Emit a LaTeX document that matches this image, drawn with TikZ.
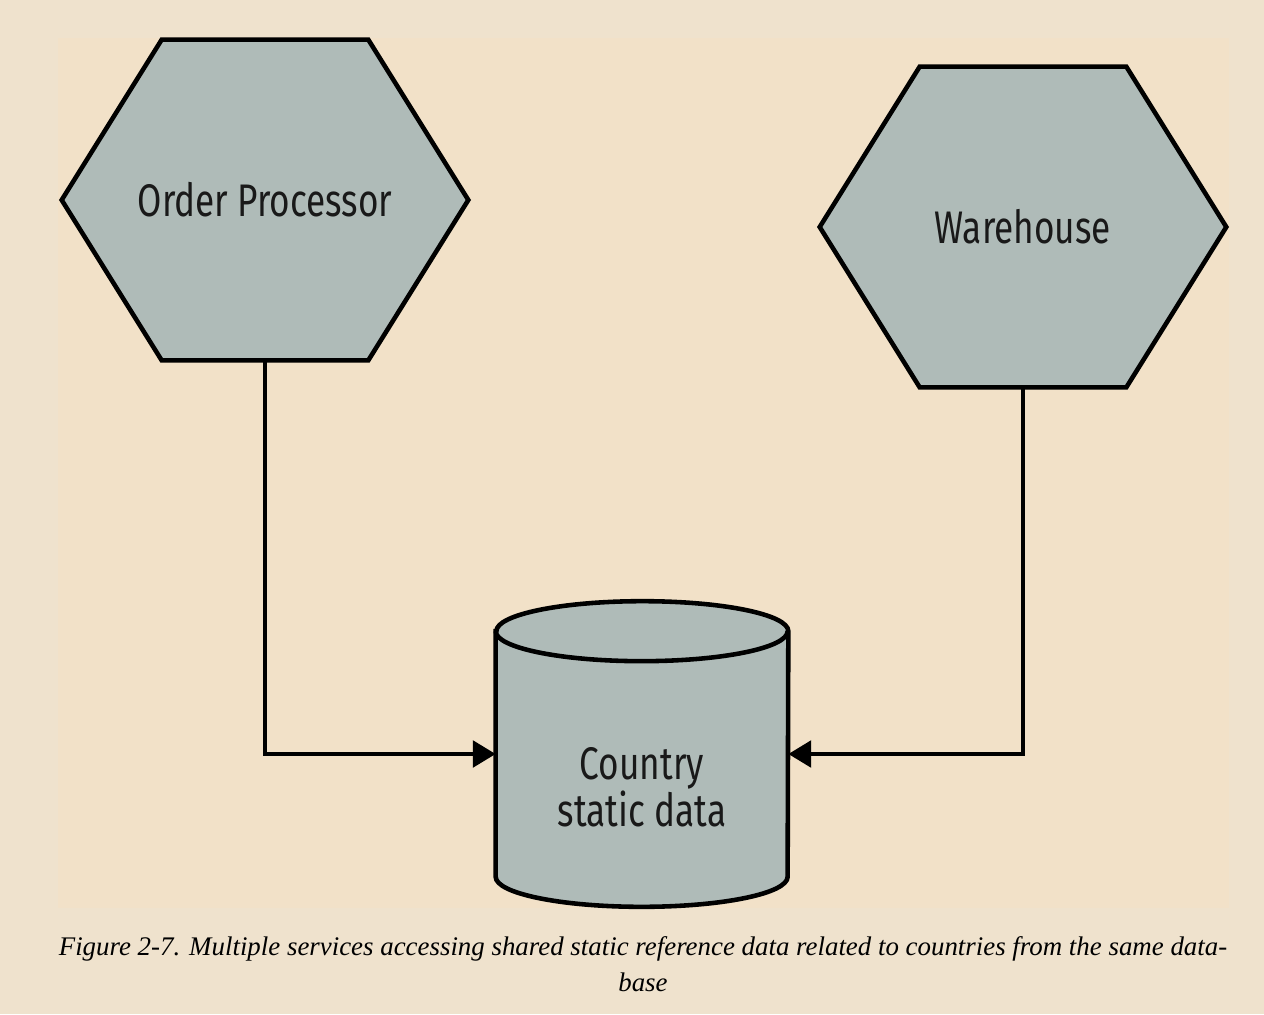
\documentclass[tikz,border=0pt]{standalone}
\usepackage{fontspec}
\setmainfont{Liberation Serif}
\newfontfamily\boxfont[FakeStretch=0.77]{Fira Sans}
\usetikzlibrary{arrows.meta,backgrounds}
\definecolor{pagebg}{HTML}{EFE2CD}
\definecolor{panelbg}{HTML}{F2E1C8}
\definecolor{shapefill}{HTML}{AFBBB8}
\tikzset{
  svc/.style={minimum width=8.12cm,minimum height=6.4cm,inner sep=0pt,
    font=\boxfont\fontsize{26}{30}\selectfont,text=black!90},
  store/.style={minimum width=5.84cm,minimum height=4.9cm,inner sep=0pt},
  hex/.style={fill=shapefill,draw=black,line width=2.6pt,line join=miter},
  link/.style={line width=2.5pt,-{Triangle[length=13pt,width=15pt]}},
}
\begin{document}
\begin{tikzpicture}[x=0.02cm,y=-0.02cm]
\useasboundingbox (0,0) rectangle (1264,1014);
\node[svc] (op) at (265,200) {Order Processor};
\node[svc] (wh) at (1023,227) {Warehouse};
\node[store] (db) at (642,754) {};
\node[font=\boxfont\fontsize{26}{25.6}\selectfont,align=center,text=black!90] (dbtext) at (642,787) {Country\\static data};
\node[font=\itshape\fontsize{15.3}{20.5}\selectfont,align=center] (caption) at (643,964)
  {Figure 2-7. Multiple services accessing shared static reference data related to countries from the same data-\\base};
% connectors
\draw[link] (op.south) |- (db.west);
\draw[link] (wh.south) |- (db.east);
\begin{scope}[on background layer]
\fill[pagebg] (0,0) rectangle (1264,1014);
\fill[panelbg] (58,38) rectangle (1229,908);
\foreach \s in {op,wh}
  \draw[hex] ([xshift=2cm]\s.north west) -- ([xshift=-2cm]\s.north east) -- (\s.east)
    -- ([xshift=-2cm]\s.south east) -- ([xshift=2cm]\s.south west) -- (\s.west) -- cycle;
% database cylinder
\draw[hex] (db.north west) -- (db.south west)
  arc[start angle=180,end angle=360,x radius=2.92cm,y radius=0.6cm] -- (db.north east)
  arc[start angle=0,end angle=180,x radius=2.92cm,y radius=0.6cm] -- cycle;
\draw[hex,fill=none] (db.north west) arc[start angle=180,end angle=360,x radius=2.92cm,y radius=0.6cm];
\end{scope}
\end{tikzpicture}
\end{document}
